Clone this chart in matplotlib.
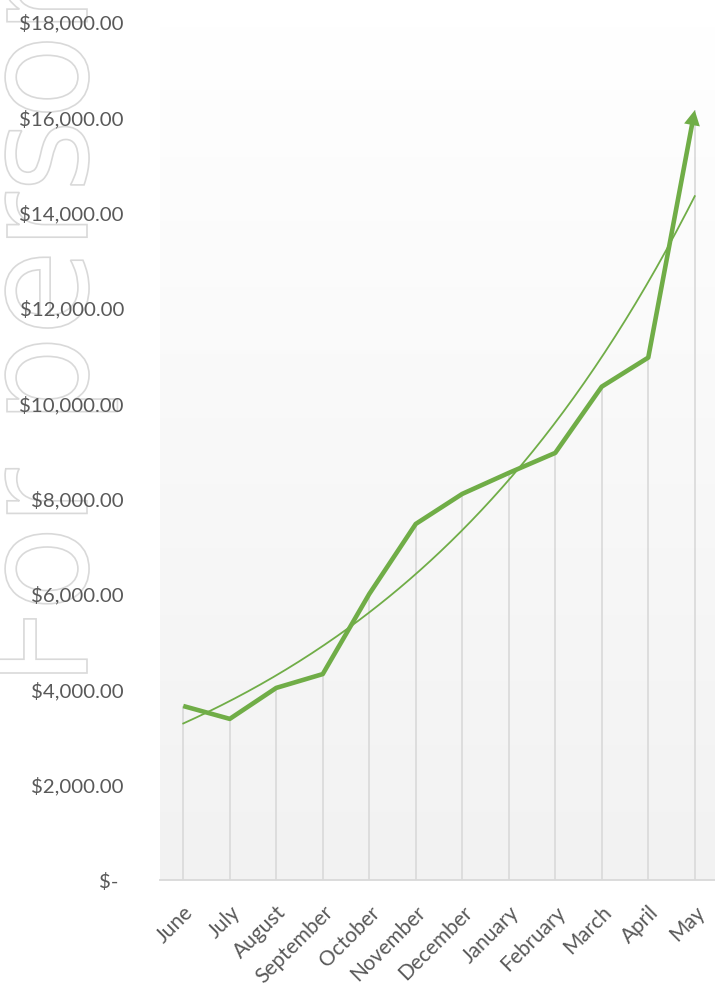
import numpy as np
import matplotlib
matplotlib.use('Agg')
import matplotlib.pyplot as plt
from matplotlib.colors import LinearSegmentedColormap
from matplotlib.ticker import FuncFormatter
from matplotlib.patches import FancyArrowPatch, PathPatch
from matplotlib.textpath import TextPath
from matplotlib.font_manager import FontProperties
from matplotlib.transforms import Affine2D, IdentityTransform

# monthly sales
months = ['June', 'July', 'August', 'September', 'October', 'November',
          'December', 'January', 'February', 'March', 'April', 'May']
sales = [3650, 3380, 4030, 4320, 6000, 7470, 8100, 8540, 8960, 10350, 10960, 16150]
yticks = [0, 2000, 4000, 6000, 8000, 10000, 12000, 14000, 16000, 18000]

green = '#70ad47'
grey = '#d9d9d9'
text_col = '#595959'

plt.rcParams['font.family'] = ['Lato', 'DejaVu Sans']

W, H = 715, 985
fig = plt.figure(figsize=(W / 100, H / 100), dpi=100)
ax = fig.add_axes([160 / W, 105 / H, 558 / W, 858 / H])

x = np.arange(len(months))
ax.set_xlim(-0.5, len(months) - 0.5)
ax.set_ylim(0, 18000)

# plot area: white at the top fading to light grey at the bottom
cmap = LinearSegmentedColormap.from_list('bg', ['#f2f2f2', '#ffffff'])
grad = np.linspace(1, 0, 256).reshape(-1, 1)
ax.imshow(grad, cmap=cmap, extent=[0, 1, 0, 1], transform=ax.transAxes,
          aspect='auto', zorder=0, interpolation='bicubic')
ax.set_xlim(-0.5, len(months) - 0.5)
ax.set_ylim(0, 18000)
ax.patch.set_visible(False)

# drop lines
ax.vlines(x, 0, sales, color=grey, lw=1.2, zorder=2)

# exponential trend line
b, a = np.polyfit(x + 1, np.log(sales), 1)
xt = np.linspace(0, len(months) - 1, 200)
ax.plot(xt, np.exp(a + b * (xt + 1)), color=green, lw=1.3, zorder=3)

# main line, stopping short of the last point to leave room for the arrowhead
head_len = 15.0
p0 = ax.transData.transform((x[-2], sales[-2]))
p1 = ax.transData.transform((x[-1], sales[-1]))
u = (p1 - p0) / np.hypot(*(p1 - p0))
end = ax.transData.inverted().transform(p1 - u * (head_len - 2))
lx = list(x[:-1]) + [end[0]]
ly = list(sales[:-1]) + [end[1]]
ax.plot(lx, ly, color=green, lw=3.3, solid_joinstyle='round',
        solid_capstyle='butt', zorder=4)

ms = 10
arrow = FancyArrowPatch((x[-2], sales[-2]), (x[-1], sales[-1]),
                        arrowstyle='-|>,head_length=%.3f,head_width=%.3f'
                        % (head_len / (ms * 100 / 72), 8 / (ms * 100 / 72)),
                        mutation_scale=ms, shrinkA=0, shrinkB=0,
                        fc=green, ec='none', lw=0, zorder=5)
ax.add_patch(arrow)

# axes
for s in ['top', 'right', 'left']:
    ax.spines[s].set_visible(False)
ax.spines['bottom'].set_color(grey)
ax.spines['bottom'].set_linewidth(1.3)
ax.spines['bottom'].set_zorder(2)

ax.set_yticks(yticks)
ax.yaxis.set_major_formatter(FuncFormatter(
    lambda v, p: '$- ' if v == 0 else '${:,.2f}'.format(v)))
ax.set_xticks(x)
ax.set_xticklabels(months, rotation=45, ha='right', rotation_mode='anchor')
ax.tick_params(axis='y', length=0, pad=26, labelsize=14.7, labelcolor=text_col)
ax.tick_params(axis='x', length=0, pad=16, labelsize=15, labelcolor=text_col)

# outlined watermark running up the left edge
fp = FontProperties(family='DejaVu Sans')
wm = 'For personal use only'
tp = TextPath((0, 0), wm, size=100, prop=fp)
o_ext = TextPath((0, 0), 'o', size=100, prop=fp).get_extents()
head = TextPath((0, 0), 'For perso', size=100, prop=fp).get_extents()
sy = 84 / o_ext.height
sx = (673 - 42) / (head.x1 - head.x0)
tr = (Affine2D().translate(-head.x0, 0).scale(sx, sy)
      .rotate_deg(90).translate(87, H - 673))
wpatch = PathPatch(tr.transform_path(tp), transform=IdentityTransform(),
                   fc='none', ec=grey, lw=1.2, zorder=-1)
fig.add_artist(wpatch)

fig.savefig('out.png', dpi=100)
